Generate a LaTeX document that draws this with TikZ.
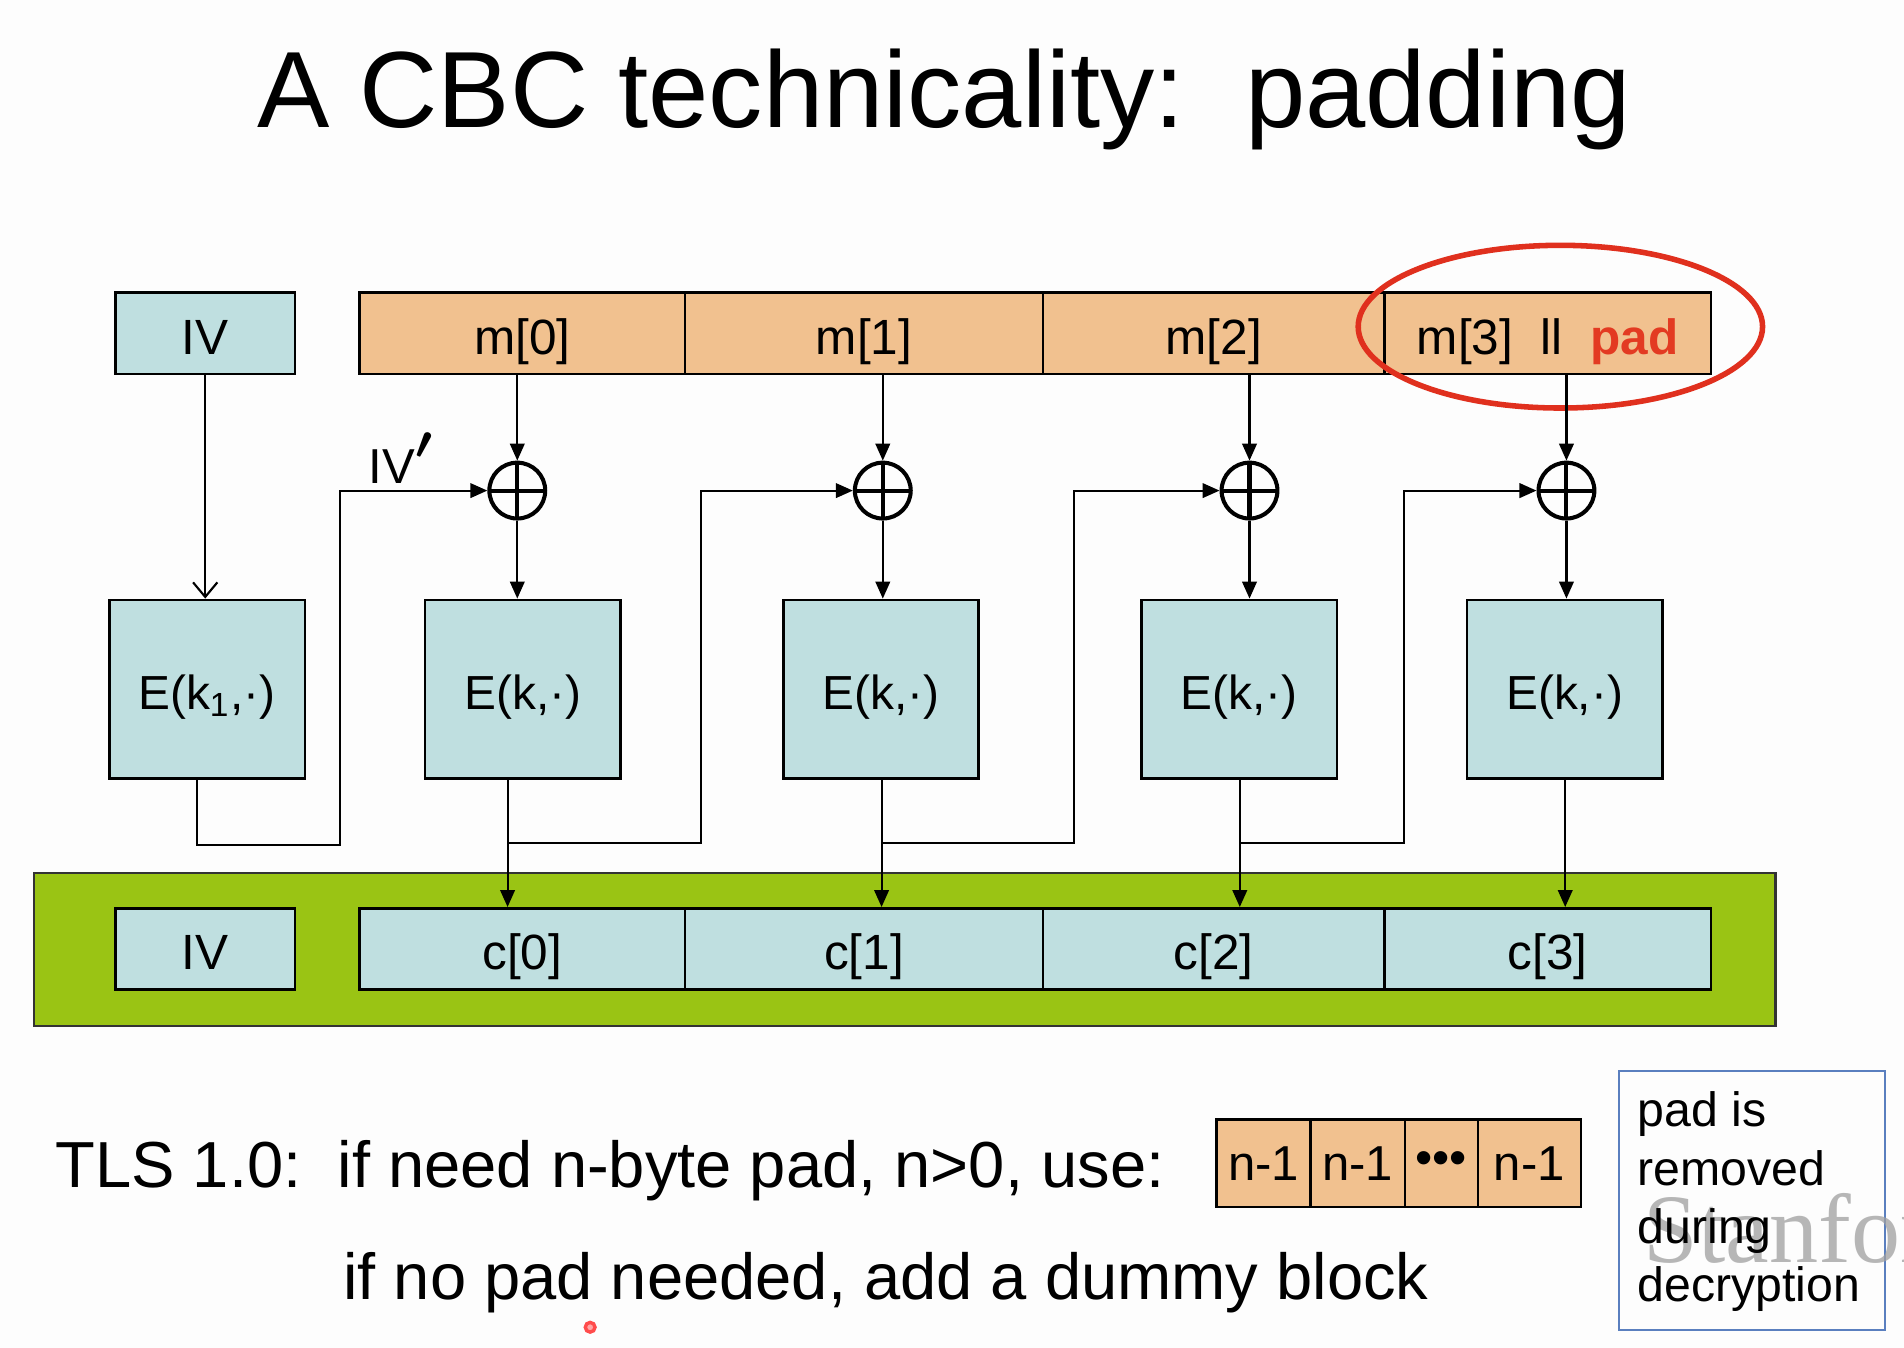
\documentclass[tikz,border=0pt]{standalone}
\usepackage{fontspec}
\setmainfont{Liberation Sans}
\newfontfamily\wmfont{Liberation Serif}
\usetikzlibrary{arrows.meta}
\definecolor{boxblue}{HTML}{BFDFE0}
\definecolor{boxorange}{HTML}{F1C18F}
\definecolor{bandgreen}{HTML}{9AC414}
\definecolor{padred}{HTML}{E33A22}
\definecolor{ringred}{HTML}{E0301E}
\definecolor{notebdr}{HTML}{5A7FBF}
\definecolor{bgwhite}{HTML}{FDFDFD}
\begin{document}
\begin{tikzpicture}[
  blk/.style={draw=black, line width=0.6pt, inner sep=0pt, minimum height=0.67cm, text height=11.7pt, text depth=2pt, font=\fontsize{11.6}{13}\selectfont},
  ivbox/.style={blk, fill=boxblue, minimum width=1.48cm},
  mbox/.style={blk, fill=boxorange},
  cbox/.style={blk, fill=boxblue},
  ebox/.style={draw=black, line width=0.6pt, fill=boxblue, inner sep=0pt, minimum width=1.61cm, minimum height=1.47cm, text height=11.4pt, text depth=2pt, font=\fontsize{11.2}{13}\selectfont},
  xorc/.style={circle, draw=black, line width=0.95pt, minimum size=0.46cm, inner sep=0pt,
    path picture={\draw[line width=0.95pt] (path picture bounding box.north) -- (path picture bounding box.south)
      (path picture bounding box.west) -- (path picture bounding box.east);}},
  arr/.style={line width=0.5pt, -{Triangle[length=0.14cm, width=0.12cm]}},
  openarr/.style={line width=0.5pt, -{Straight Barb[length=0.12cm, width=0.2cm]}},
  padcell/.style={draw=black, line width=0.6pt, fill=boxorange, inner sep=0pt, minimum height=0.72cm, font=\fontsize{11.5}{13}\selectfont},
  txt/.style={inner sep=0pt, anchor=base west},
]
\useasboundingbox[fill=bgwhite] (0,0) rectangle (15.68,-11.10);

% title
\node[font=\fontsize{25.4}{30}\selectfont, anchor=base, inner sep=0pt] (title) at (7.775,-1.05) {A CBC technicality:\ \ padding};

% top row
\node[ivbox] (ivt) at (1.69,-2.745) {IV};
\node[mbox, minimum width=2.68cm] (m0) at (4.30,-2.745) {m[0]};
\node[mbox, minimum width=2.95cm] (m1) at (7.115,-2.745) {m[1]};
\node[mbox, minimum width=2.81cm] (m2) at (9.995,-2.745) {m[2]};
\node[mbox, minimum width=2.69cm] (m3) at (12.745,-2.745) {m[3]\ \ ll\ \ {\color{padred}\bfseries pad}};
\draw[ringred, line width=1.3pt] (12.85,-2.69) ellipse [x radius=1.665, y radius=0.67];

% xor circles
\node[xorc] (x0) at (4.26,-4.04) {};
\node[xorc] (x1) at (7.27,-4.04) {};
\node[xorc] (x2) at (10.29,-4.04) {};
\node[xorc] (x3) at (12.90,-4.04) {};

% encryption boxes
\node[ebox] (E1) at (1.705,-5.675) {E(k\textsubscript{1},·)};
\node[ebox] (E0) at (4.305,-5.675) {E(k,·)};
\node[ebox] (Ek1) at (7.255,-5.675) {E(k,·)};
\node[ebox] (Ek2) at (10.205,-5.675) {E(k,·)};
\node[ebox] (Ek3) at (12.885,-5.675) {E(k,·)};

% green band and ciphertext row
\node[draw=black!80, fill=bandgreen, line width=0.6pt, minimum width=14.34cm, minimum height=1.26cm, inner sep=0pt] (band) at (7.45,-7.82) {};
\node[ivbox] (ivb) at (1.69,-7.815) {IV};
\node[cbox, minimum width=2.68cm] (c0) at (4.30,-7.815) {c[0]};
\node[cbox, minimum width=2.95cm] (c1) at (7.115,-7.815) {c[1]};
\node[cbox, minimum width=2.81cm] (c2) at (9.995,-7.815) {c[2]};
\node[cbox, minimum width=2.69cm] (c3) at (12.745,-7.815) {c[3]};

% exit points
\coordinate (d1) at ([xshift=-0.085cm]E1.south);
\coordinate (d0) at ([xshift=-0.125cm]E0.south);
\coordinate (dk1) at ([xshift=0.005cm]Ek1.south);
\coordinate (dk2) at ([xshift=0.005cm]Ek2.south);
\coordinate (dk3) at ([xshift=0.005cm]Ek3.south);

% IV to E1
\draw[openarr] (ivt.south) -- (ivt.south |- E1.north);

% message to xor
\draw[arr] (x0 |- m0.south) -- (x0.north);
\draw[arr] (x1 |- m1.south) -- (x1.north);
\draw[arr] (x2 |- m2.south) -- (x2.north);
\draw[arr] (x3 |- m3.south) -- (x3.north);

% xor to E
\draw[arr] (x0.south) -- (x0.south |- E0.north);
\draw[arr] (x1.south) -- (x1.south |- Ek1.north);
\draw[arr] (x2.south) -- (x2.south |- Ek2.north);
\draw[arr] (x3.south) -- (x3.south |- Ek3.north);

% E to c
\draw[arr] (d0) -- (d0 |- c0.north);
\draw[arr] (dk1) -- (dk1 |- c1.north);
\draw[arr] (dk2) -- (dk2 |- c2.north);
\draw[arr] (dk3) -- (dk3 |- c3.north);

% chaining
\draw[arr] (d1) -- ++(0,-0.54) -| ([xshift=-1.21cm]x0.west) -- (x0.west);
\draw[arr] ([yshift=-0.52cm]d0) -| ([xshift=-1.25cm]x1.west) -- (x1.west);
\draw[arr] ([yshift=-0.52cm]dk1) -| ([xshift=-1.20cm]x2.west) -- (x2.west);
\draw[arr] ([yshift=-0.52cm]dk2) -| ([xshift=-1.09cm]x3.west) -- (x3.west);
\node[font=\fontsize{11.5}{13}\selectfont, inner sep=0pt] (ivp) at (3.31,-3.77) {IV\scalebox{1.35}{\boldmath$'$}};

% bottom text
\node[txt, font=\fontsize{15.25}{19}\selectfont] (tls) at (0.45,-9.78) {TLS 1.0:\ \ if need n-byte pad, n>0, use:};
\node[txt, font=\fontsize{15.25}{19}\selectfont] (nopad) at (2.82,-10.70) {if no pad needed, add a dummy block};

% pad cells
\node[padcell, minimum width=0.77cm] (p1) at (10.405,-9.58) {n-1};
\node[padcell, minimum width=0.78cm] (p2) at (11.18,-9.58) {n-1};
\node[padcell, minimum width=0.60cm] (p3) at (11.87,-9.58) {•••};
\node[padcell, minimum width=0.85cm] (p4) at (12.595,-9.58) {n-1};

% note box
\node[draw=notebdr, line width=0.5pt, minimum width=2.19cm, minimum height=2.13cm, inner sep=0pt] (note) at (14.425,-9.885) {};
\node[txt, font=\wmfont\fontsize{23}{26}\selectfont, text=gray!75, opacity=0.75] (wm) at (13.53,-10.40) {Stanford};
\node[txt, font=\fontsize{11.3}{13}\selectfont] (n1) at (13.48,-9.28) {pad is};
\node[txt, font=\fontsize{11.3}{13}\selectfont] (n2) at (13.48,-9.76) {removed};
\node[txt, font=\fontsize{11.3}{13}\selectfont] (n3) at (13.48,-10.24) {during};
\node[txt, font=\fontsize{11.3}{13}\selectfont] (n4) at (13.48,-10.72) {decryption};

% pointer dot
\draw[red!70, fill=red!35, line width=0.8pt] (4.86,-10.93) circle (0.04);
\end{tikzpicture}
\end{document}
